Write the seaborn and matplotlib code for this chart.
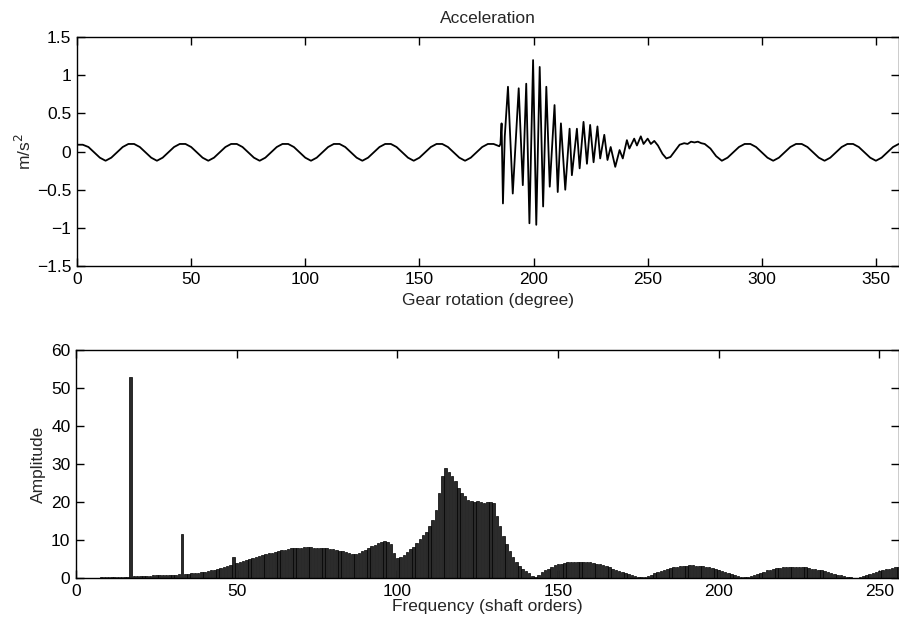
import numpy as np
import pandas as pd
import matplotlib
matplotlib.use("Agg")
import matplotlib.pyplot as plt
import seaborn as sns
from matplotlib.ticker import FuncFormatter

# ---------------- data: top panel (acceleration vs gear rotation) ----------------
# regular meshing part before the impact (every 2.5 degrees, 0..185)
pre_angles = [i * 2.5 for i in range(75)]
pre_values = [0.09, 0.09, 0.06, -0.01, -0.08,
              -0.12, -0.08, -0.01, 0.06, 0.10, 0.10, 0.06, -0.01, -0.08,
              -0.12, -0.08, -0.01, 0.06, 0.10, 0.10, 0.06, -0.01, -0.08,
              -0.12, -0.08, -0.01, 0.06, 0.10, 0.10, 0.06, -0.01, -0.08,
              -0.12, -0.08, -0.01, 0.06, 0.10, 0.10, 0.06, -0.01, -0.08,
              -0.12, -0.08, -0.01, 0.06, 0.10, 0.10, 0.06, -0.01, -0.08,
              -0.12, -0.08, -0.01, 0.06, 0.10, 0.10, 0.06, -0.01, -0.08,
              -0.12, -0.08, -0.01, 0.06, 0.10, 0.10, 0.06, -0.01, -0.08,
              -0.12, -0.08, -0.01, 0.06, 0.10, 0.10, 0.07]

# impact burst and its decay
burst_angles = [185.5, 186.0, 186.6, 187.4, 188.8, 190.9, 193.5, 195.3, 196.8, 198.2,
                199.8, 201.2, 202.7, 204.2, 205.6, 207.1, 209.2, 210.6, 212.0, 213.9,
                215.8, 216.8, 219.0, 220.2, 221.9, 223.4, 224.8, 226.3, 228.0, 229.2,
                231.0, 232.4, 233.8, 235.8, 237.7, 239.1, 240.9, 242.0, 244.1, 245.3,
                247.0, 248.2, 250.0, 251.4, 252.9, 254.5, 256.5, 258.2, 260.0, 262.0,
                264.0, 266.0, 267.5, 269.0, 270.5, 272.0, 273.5, 275.0, 277.5, 280.0]
burst_values = [0.10, 0.37, -0.68, 0.20, 0.85, -0.55, 0.83, -0.44, 0.89, -0.94,
                1.20, -0.96, 1.11, -0.72, 0.85, -0.46, 0.61, -0.53, 0.37, -0.50,
                0.30, -0.31, 0.30, -0.22, 0.39, -0.16, 0.35, -0.14, 0.33, -0.09,
                0.22, -0.11, 0.06, -0.20, 0.02, -0.09, 0.15, 0.04, 0.17, 0.08,
                0.20, 0.10, 0.17, 0.10, 0.14, 0.08, -0.03, -0.09, -0.07, 0.01,
                0.09, 0.11, 0.10, 0.13, 0.12, 0.13, 0.11, 0.10, 0.04, -0.06]

# regular meshing part after the impact (every 2.5 degrees, 282.5..360)
post_angles = [282.5 + i * 2.5 for i in range(32)]
post_values = [-0.12, -0.08, -0.01, 0.06, 0.10, 0.10, 0.06, -0.01, -0.08,
               -0.12, -0.08, -0.01, 0.06, 0.10, 0.10, 0.06, -0.01, -0.08,
               -0.12, -0.08, -0.01, 0.06, 0.10, 0.10, 0.06, -0.01, -0.08,
               -0.12, -0.08, -0.01, 0.06, 0.10]

# ---------------- data: bottom panel (spectrum) ----------------
orders = list(range(1, 257))
amplitudes = [0, 0, 0, 0, 0, 0, 0, 0.2, 0.3, 0.3,
              0.3, 0.3, 0.4, 0.4, 0.4, 0.4, 52.8, 0.5, 0.5, 0.6,
              0.6, 0.6, 0.6, 0.7, 0.7, 0.7, 0.8, 0.8, 0.9, 0.9,
              0.9, 1.0, 11.6, 1.0, 1.1, 1.2, 1.3, 1.4, 1.5, 1.6,
              1.8, 2.0, 2.2, 2.5, 2.7, 3.0, 3.2, 3.5, 5.6, 4.0,
              4.2, 4.5, 4.7, 5.0, 5.2, 5.5, 5.8, 6.0, 6.3, 6.5,
              6.7, 6.9, 7.1, 7.3, 7.5, 7.6, 7.8, 7.9, 8.0, 8.0,
              8.1, 8.1, 8.1, 8.0, 8.0, 7.9, 7.9, 7.8, 7.7, 7.6,
              7.4, 7.2, 7.0, 6.8, 6.6, 6.4, 6.3, 6.6, 7.0, 7.5,
              7.9, 8.3, 8.7, 9.1, 9.5, 9.7, 9.5, 8.9, 6.5, 5.2,
              5.6, 6.0, 6.9, 7.6, 8.2, 9.2, 10.2, 11.2, 12.2, 13.6,
              15.3, 17.9, 22.3, 26.7, 28.9, 28.0, 26.7, 25.4, 23.7, 22.3,
              21.5, 20.6, 20.2, 19.9, 20.2, 20.0, 19.8, 20.0, 20.1, 19.8,
              16.3, 13.7, 11.1, 8.9, 7.2, 5.4, 4.1, 3.2, 2.4, 1.8,
              1.2, 0.6, 0.3, 0.9, 1.5, 2.0, 2.5, 2.9, 3.3, 3.6,
              3.8, 4.0, 4.1, 4.2, 4.3, 4.3, 4.3, 4.3, 4.2, 4.1,
              4.0, 3.8, 3.6, 3.4, 3.1, 2.8, 2.5, 2.2, 1.9, 1.6,
              1.3, 1.0, 0.7, 0.5, 0.3, 0.2, 0.3, 0.6, 0.9, 1.2,
              1.5, 1.8, 2.1, 2.4, 2.6, 2.8, 3.0, 3.1, 3.2, 3.2,
              3.3, 3.3, 3.2, 3.2, 3.1, 3.0, 2.8, 2.6, 2.4, 2.2,
              1.9, 1.6, 1.3, 1.0, 0.7, 0.5, 0.3, 0.2, 0.3, 0.5,
              0.8, 1.1, 1.4, 1.7, 2.0, 2.2, 2.4, 2.6, 2.7, 2.8,
              2.9, 2.9, 2.9, 2.9, 2.9, 2.8, 2.8, 2.7, 2.5, 2.4,
              2.2, 2.0, 1.8, 1.6, 1.3, 1.1, 0.9, 0.7, 0.5, 0.3,
              0.2, 0.1, 0.1, 0.3, 0.5, 0.8, 1.0, 1.3, 1.6, 1.9,
              2.1, 2.3, 2.5, 2.7, 2.8, 2.9]

top_xticks = [0, 50, 100, 150, 200, 250, 300, 350]
top_yticks = [-1.5, -1, -0.5, 0, 0.5, 1, 1.5]
bot_xticks = [0, 50, 100, 150, 200, 250]
bot_yticks = [0, 10, 20, 30, 40, 50, 60]

# ---------------- figure ----------------
sns.set_style("ticks")
plt.rcParams["font.family"] = ["Liberation Sans", "DejaVu Sans"]
plt.rcParams["axes.unicode_minus"] = True

fig = plt.figure(figsize=(8.99, 6.20), dpi=100)
ax1 = fig.add_axes([0.0857, 0.571, 0.914, 0.369])
ax2 = fig.add_axes([0.0846, 0.0677, 0.915, 0.368])

sig = pd.DataFrame({
    "angle": pre_angles + burst_angles + post_angles,
    "acc": pre_values + burst_values + post_values,
})
sns.lineplot(data=sig, x="angle", y="acc", ax=ax1, color="black", linewidth=1.3,
             estimator=None, sort=False)

spec = pd.DataFrame({"order": orders, "amp": amplitudes})
sns.barplot(data=spec, x="order", y="amp", ax=ax2, native_scale=True, width=0.8,
            color="#2a2a2a", saturation=1, edgecolor="black", linewidth=0.5,
            errorbar=None)


def matlab_fmt(v, pos):
    s = "%g" % v
    return s.replace("-", "\u2212")


fs = 12.5
for ax in (ax1, ax2):
    ax.tick_params(direction="in", length=6, width=1, top=True, right=True,
                   labelsize=fs, colors="black", pad=4)
    for sp in ax.spines.values():
        sp.set_linewidth(1.0)
        sp.set_color("black")
    ax.xaxis.set_major_formatter(FuncFormatter(matlab_fmt))
    ax.yaxis.set_major_formatter(FuncFormatter(matlab_fmt))

ax1.set_xlim(0, 360)
ax1.set_ylim(-1.5, 1.5)
ax1.set_xticks(top_xticks)
ax1.set_yticks(top_yticks)
ax1.set_title("Acceleration", fontsize=fs, pad=10)
ax1.set_xlabel("Gear rotation (degree)", fontsize=fs, labelpad=5)
ax1.set_ylabel("m/s$^2$", fontsize=fs, labelpad=2)

ax2.set_xlim(0, 256)
ax2.set_ylim(0, 60)
ax2.set_xticks(bot_xticks)
ax2.set_yticks(bot_yticks)
ax2.set_xlabel("Frequency (shaft orders)", fontsize=fs, labelpad=0)
ax2.set_ylabel("Amplitude", fontsize=fs, labelpad=4)

fig.savefig("out.png", dpi=100)
